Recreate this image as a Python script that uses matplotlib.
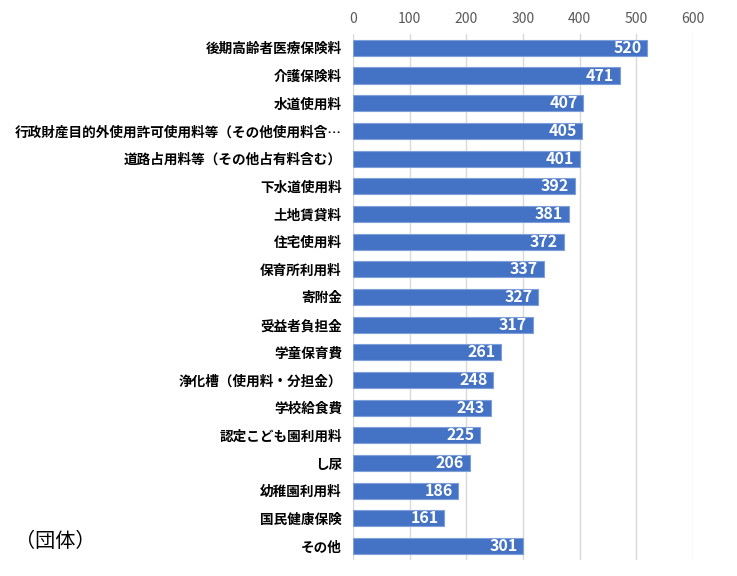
import numpy as np
import matplotlib
matplotlib.use("Agg")
import matplotlib.pyplot as plt

plt.rcParams['font.family'] = ['Noto Sans CJK JP', 'DejaVu Sans']

categories = [
    "後期高齢者医療保険料",
    "介護保険料",
    "水道使用料",
    "行政財産目的外使用許可使用料等（その他使用料含…",
    "道路占用料等（その他占有料含む）",
    "下水道使用料",
    "土地賃貸料",
    "住宅使用料",
    "保育所利用料",
    "寄附金",
    "受益者負担金",
    "学童保育費",
    "浄化槽（使用料・分担金）",
    "学校給食費",
    "認定こども園利用料",
    "し尿",
    "幼稚園利用料",
    "国民健康保険",
    "その他",
]
counts = [520, 471, 407, 405, 401, 392, 381, 372, 337, 327, 317,
          261, 248, 243, 225, 206, 186, 161, 301]
xticks = [0, 100, 200, 300, 400, 500, 600]
unit_label = "（団体）"

fig = plt.figure(figsize=(7.37, 5.76), dpi=100)
ax = fig.add_axes([0.479, 0.028, 0.461, 0.913])

y = np.arange(len(categories))
ax.barh(y, counts, height=0.58, color='#4472C4', edgecolor='#7f9fdb',
        linewidth=0.8, zorder=3)

for yi, v in zip(y, counts):
    ax.text(v - 10, yi, str(v), ha='right', va='center', color='white',
            fontsize=11.5, fontweight='bold', zorder=4)

ax.set_ylim(len(categories) - 0.5, -0.5)
ax.set_xlim(0, 600)
ax.set_xticks(xticks)
ax.xaxis.tick_top()
ax.tick_params(axis='x', length=0, labelsize=10, labelcolor='#595959', pad=6)
ax.set_yticks(y)
ax.set_yticklabels(categories, fontsize=9.8, fontweight='bold')
ax.tick_params(axis='y', length=0, pad=8)
ax.grid(axis='x', color='#d9d9d9', linewidth=1, zorder=0)
for s in ax.spines.values():
    s.set_visible(False)

fig.text(0.02, 0.06, unit_label, fontsize=14.5, ha='left', va='center')

fig.savefig('out.png', dpi=100)
